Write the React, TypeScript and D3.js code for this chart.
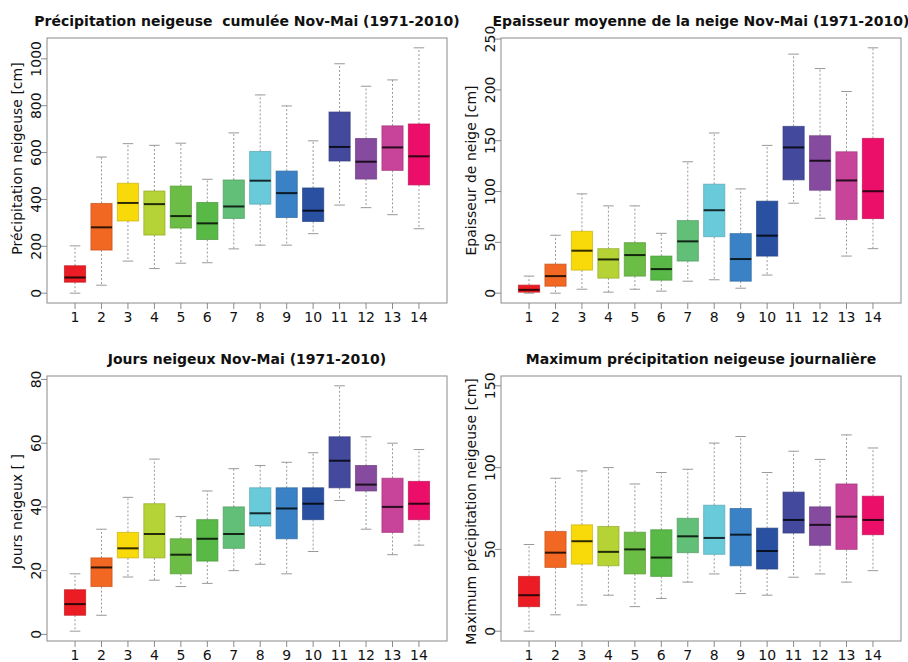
import React from "react";
import * as d3 from "d3";

const categories = ["1", "2", "3", "4", "5", "6", "7", "8", "9", "10", "11", "12", "13", "14"];

const boxColors = [
  "#EC1C24", "#F26722", "#F8DA0A", "#B5D334", "#6CBD45", "#58B947", "#62BF77",
  "#69CBDA", "#3A82C5", "#2A51A1", "#434A9E", "#864B9E", "#C8439A", "#EC0F69",
];

// [min, q1, median, q3, max]
const cumulStats = [
  [0, 47, 67, 117, 202],
  [34, 184, 281, 383, 581],
  [137, 308, 385, 469, 638],
  [105, 248, 380, 436, 631],
  [128, 278, 329, 457, 640],
  [130, 229, 298, 387, 486],
  [189, 319, 370, 483, 684],
  [205, 380, 480, 605, 846],
  [205, 323, 427, 521, 799],
  [254, 306, 352, 449, 650],
  [376, 564, 624, 773, 979],
  [365, 487, 561, 660, 883],
  [335, 524, 622, 714, 910],
  [275, 462, 584, 722, 1047],
];

const depthStats = [
  [0, 1, 3.3, 7.9, 16.8],
  [0, 6.9, 16.8, 28.6, 57],
  [3.9, 22.7, 41.8, 60.9, 97.7],
  [1, 14.8, 33.2, 43.8, 85.9],
  [3.9, 16.8, 37.5, 49.7, 85.9],
  [2, 12.8, 23.7, 36.5, 58.9],
  [11.8, 31.6, 51, 71.4, 129.3],
  [13.2, 55.6, 81.6, 107.2, 157.6],
  [4.9, 11.8, 33.6, 58.6, 102.6],
  [17.8, 36.5, 56.6, 90.5, 145.4],
  [88.5, 111.5, 143.4, 164.1, 235.2],
  [73.7, 101.3, 130.3, 154.9, 221],
  [36.5, 72.4, 110.9, 139.1, 198.4],
  [43.8, 73.4, 100.3, 152.3, 241.4],
];

const daysStats = [
  [1, 6, 9.5, 14, 19],
  [6, 15, 21, 24, 33],
  [18, 24, 27, 32, 43],
  [17, 24, 31.5, 41, 55],
  [15, 19, 25, 30, 37],
  [16, 23, 30, 36, 45],
  [20, 27, 31.5, 40, 52],
  [22, 34, 38, 46, 53],
  [19, 30, 39.5, 46, 54],
  [26, 36, 41, 46, 57],
  [42, 46, 54.5, 62, 78],
  [33, 45, 47, 53, 62],
  [25, 32, 40, 49, 60],
  [28, 36, 41, 48, 58],
];

const maxStats = [
  [0, 15, 22, 33.5, 53],
  [10, 39, 48, 61, 93.5],
  [16, 41, 55, 65, 98],
  [22, 40, 48.5, 64, 100],
  [15, 35, 50, 60.5, 90],
  [20, 33.5, 45, 62, 97],
  [30, 48, 58, 69, 99],
  [35, 47, 57, 77, 115],
  [23, 40, 59, 75, 119],
  [22, 38, 49, 63, 97],
  [33, 60, 68, 85, 110],
  [35, 52.5, 65, 76, 105],
  [30, 50, 70, 90, 120],
  [37, 59, 68, 82.5, 112],
];

const cumulTicks = [0, 200, 400, 600, 800, 1000];
const depthTicks = [0, 50, 100, 150, 200, 250];
const daysTicks = [0, 20, 40, 60, 80];
const maxTicks = [0, 50, 100, 150];

const titles = [
  "Précipitation neigeuse  cumulée Nov-Mai (1971-2010)",
  "Epaisseur moyenne de la neige Nov-Mai (1971-2010)",
  "Jours neigeux Nov-Mai (1971-2010)",
  "Maximum précipitation neigeuse journalière",
];
const yLabels = [
  "Précipitation neigeuse [cm]",
  "Epaisseur de neige [cm]",
  "Jours neigeux [ ]",
  "Maximum précipitation neigeuse [cm]",
];

const panels = [
  { stats: cumulStats, ticks: cumulTicks, ylim: null as null | number[], ox: 0, oy: 0, labShift: -12 },
  { stats: depthStats, ticks: depthTicks, ylim: null as null | number[], ox: 454, oy: 0, labShift: 0 },
  { stats: daysStats, ticks: daysTicks, ylim: null as null | number[], ox: 0, oy: 338, labShift: 3 },
  { stats: maxStats, ticks: maxTicks, ylim: [0, 150], ox: 454, oy: 338, labShift: 3 },
];

const FONT = "'DejaVu Sans', sans-serif";
const FRAME = "#8a8a8a";

function Panel({ p, idx }: { p: (typeof panels)[number]; idx: number }) {
  const left = p.ox + 47;
  const right = p.ox + 447;
  const top = p.oy + 38;
  const bottom = p.oy + 303;
  const n = categories.length;

  const lim = p.ylim ?? [d3.min(p.stats, (s) => s[0])!, d3.max(p.stats, (s) => s[4])!];
  const ext = (lim[1] - lim[0]) * 0.04;
  const y = d3.scaleLinear().domain([lim[0] - ext, lim[1] + ext]).range([bottom, top]);
  const xext = n * 0.04;
  const x = d3.scaleLinear().domain([0.5 - xext, n + 0.5 + xext]).range([left, right]);
  const halfW = x(1.4) - x(1);
  const capHalf = halfW / 2;
  const cx = (left + right) / 2;
  const cy = (top + bottom) / 2 + p.labShift;

  return (
    <g>
      <text
        x={cx}
        y={p.oy + 25.5}
        textAnchor="middle"
        fontFamily={FONT}
        fontWeight="bold"
        fontSize={14}
        fill="#111"
        style={{ whiteSpace: "pre" }}
      >
        {titles[idx]}
      </text>
      <text
        transform={`translate(${p.ox + 22},${cy}) rotate(-90)`}
        textAnchor="middle"
        fontFamily={FONT}
        fontSize={14}
        fill="#111"
      >
        {yLabels[idx]}
      </text>
      {p.stats.map((s, i) => {
        const xc = x(i + 1);
        const c = boxColors[i];
        const border = d3.color(c)!.darker(0.6).formatHex();
        const med = d3.interpolateRgb(c, "#000")(0.8);
        return (
          <g key={i}>
            <line x1={xc} x2={xc} y1={y(s[3])} y2={y(s[4])} stroke="#999" strokeDasharray="2,2" />
            <line x1={xc} x2={xc} y1={y(s[1])} y2={y(s[0])} stroke="#999" strokeDasharray="2,2" />
            <line x1={xc - capHalf} x2={xc + capHalf} y1={y(s[4])} y2={y(s[4])} stroke="#999" />
            <line x1={xc - capHalf} x2={xc + capHalf} y1={y(s[0])} y2={y(s[0])} stroke="#999" />
            <rect
              x={xc - halfW}
              y={y(s[3])}
              width={halfW * 2}
              height={y(s[1]) - y(s[3])}
              fill={c}
              stroke={border}
              strokeWidth={1}
              strokeOpacity={0.7}
            />
            <line x1={xc - halfW} x2={xc + halfW} y1={y(s[2])} y2={y(s[2])} stroke={med} strokeWidth={2} />
          </g>
        );
      })}
      <rect x={left} y={top} width={right - left} height={bottom - top} fill="none" stroke={FRAME} />
      {p.ticks.map((t) => (
        <g key={t}>
          <line x1={left - 6} x2={left} y1={y(t)} y2={y(t)} stroke={FRAME} />
          <text
            transform={`translate(${left - 6.5},${y(t)}) rotate(-90)`}
            textAnchor="middle"
            fontFamily={FONT}
            fontSize={14}
            fill="#111"
          >
            {t}
          </text>
        </g>
      ))}
      {categories.map((c, i) => (
        <g key={c}>
          <line x1={x(i + 1)} x2={x(i + 1)} y1={bottom} y2={bottom + 6} stroke={FRAME} />
          <text x={x(i + 1)} y={bottom + 18.5} textAnchor="middle" fontFamily={FONT} fontSize={14} fill="#111">
            {c}
          </text>
        </g>
      ))}
    </g>
  );
}

export default function App() {
  return (
    <svg
      width={908}
      height={662}
      style={{ position: "absolute", left: 0, top: 0, background: "#fff" }}
    >
      <rect width={908} height={662} fill="#fff" />
      {panels.map((p, i) => (
        <Panel key={i} p={p} idx={i} />
      ))}
    </svg>
  );
}
